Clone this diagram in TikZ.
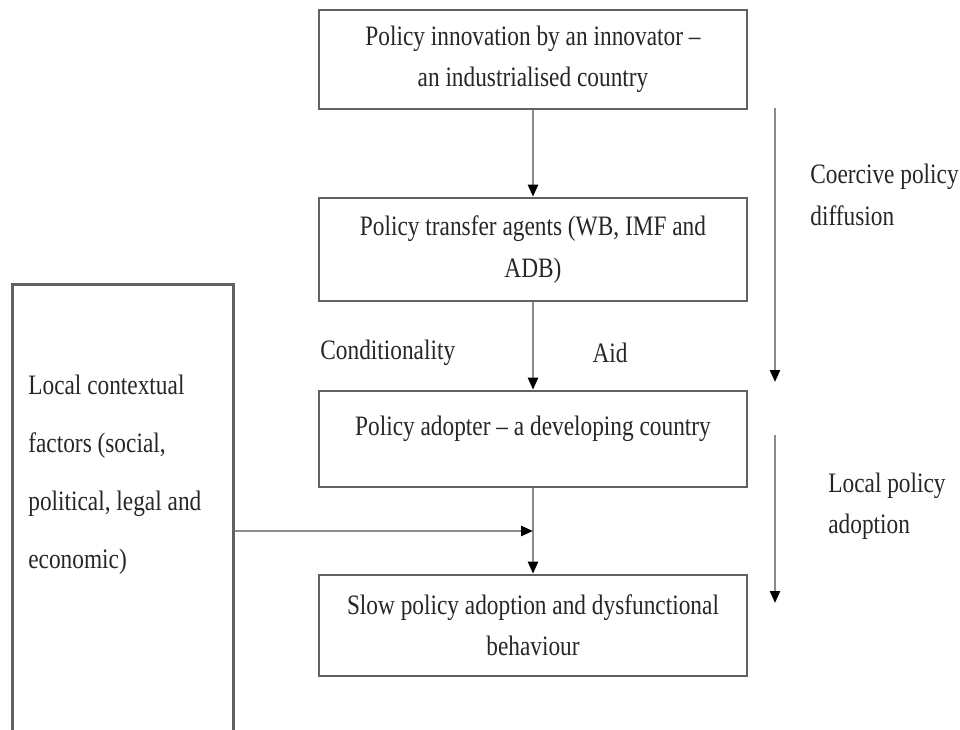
\documentclass[tikz,border=0pt]{standalone}
\usepackage{fontspec}
\setmainfont[FakeStretch=0.83]{Liberation Serif}
\usetikzlibrary{arrows.meta,calc}

\begin{document}
\begin{tikzpicture}[x=0.02cm,y=-0.02cm,
  box/.style={draw=black!62,line width=1.5pt,minimum width=8.56cm,inner sep=2pt,align=center,font=\fontsize{16}{23.5}\selectfont,text=black!85},
  flow/.style={draw=black!45,line width=1.3pt,-{Triangle[length=0.24cm,width=0.2cm,color=black]}},
  lbl/.style={font=\fontsize{16}{23.5}\selectfont,text=black!85,inner sep=0pt,align=left}]
\useasboundingbox (0,0) rectangle (960,730);
\node[box,minimum height=1.98cm](innov)at(533,59.5){Policy innovation by an innovator --\\an industrialised country};
\node[box,minimum height=2.06cm](agents)at(533,249.5){Policy transfer agents (WB, IMF and\\ADB)};
\node[box,minimum height=1.92cm,text depth=0.55cm](adopter)at(533,439){Policy adopter -- a developing country};
\node[box,minimum height=2.02cm](slow)at(533,625.5){Slow policy adoption and dysfunctional\\behaviour};
\node[draw=black!62,line width=1.5pt,minimum width=4.42cm,minimum height=9.8cm,anchor=north west](lcf)at(11,283){};
\node[lbl,anchor=west,font=\fontsize{16}{33}\selectfont](lctx)at(28,474.5){Local contextual\\factors (social,\\political, legal and\\economic)};
\draw[flow](innov)--(agents);
\draw[flow](agents)--(adopter);
\draw[flow](adopter)--(slow);
\coordinate(join)at($(adopter.south)!0.5!(slow.north)$);
\draw[flow](lcf.east|-join)--(join);
\node[lbl,anchor=west](cond)at(320,353){Conditionality};
\node[lbl](aid)at(610,353){Aid};
\coordinate(c1)at(775,108);
\coordinate(c2)at(775,382);
\coordinate(l1)at(775,435);
\coordinate(l2)at(775,603);
\draw[flow](c1)--(c2);
\draw[flow](l1)--(l2);
\node[lbl,anchor=west](coer)at(810,195){Coercive policy\\diffusion};
\node[lbl,anchor=west](locad)at(828,506){Local policy\\adoption};
\end{tikzpicture}
\end{document}
